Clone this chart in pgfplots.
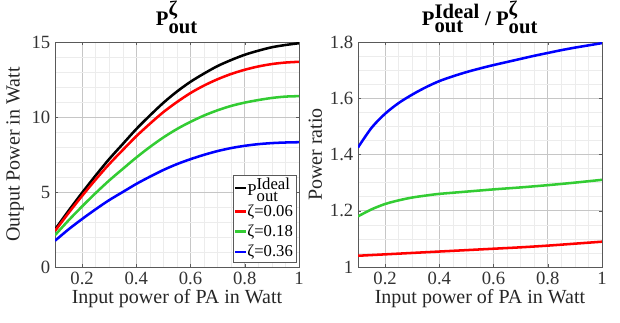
\documentclass[border=0pt]{standalone}
\usepackage{fontspec}
\setmainfont{Liberation Serif}
\usepackage{pgfplots}
\pgfplotsset{compat=1.18}
\definecolor{mred}{RGB}{255,0,0}
\definecolor{mgreen}{RGB}{51,204,51}
\definecolor{mblue}{RGB}{0,0,255}
\pgfplotsset{
  myax/.style={
    anchor=south west, scale only axis,
    width=183pt, height=168.75pt,
    xmin=0.1, xmax=1,
    xtick={0.2,0.4,0.6,0.8,1},
    xticklabels={0.2,0.4,0.6,0.8,1},
    minor x tick num=3,
    grid=both,
    major grid style={gray!45, line width=0.5pt},
    minor grid style={gray!15, line width=0.4pt},
    axis line style={gray!70!black, line width=0.5pt},
    tick style={gray!70!black},
    tick align=inside,
    major tick length=2pt, minor tick length=0pt,
    /pgf/number format/assume math mode=true,
    ticklabel style={font=\fontsize{14}{15}\selectfont, text=black!80},
    label style={font=\fontsize{15}{16}\selectfont, text=black!85},
    title style={font=\fontsize{15.5}{16}\selectfont\bfseries, yshift=-3pt},
    xlabel={Input power of PA in Watt},
    xlabel style={yshift=3pt},
    every axis plot/.append style={line width=1.9pt, smooth},
  }
}
\begin{document}
\begin{tikzpicture}
\path[use as bounding box] (0,0) rectangle (465pt,241.5pt);
\begin{axis}[myax, at={(41.25pt,41.25pt)},
  ymin=0, ymax=15, ytick={0,5,10,15}, minor y tick num=4,
  ylabel={Output Power in Watt}, ylabel style={yshift=-1pt},
  title={P$^{\textbf{ζ}}_{\textbf{out}}$},
  legend style={at={(0.99,0.02)}, anchor=south east, font=\fontsize{12.5}{13}\selectfont, draw=gray!70!black, line width=0.5pt, inner sep=0.5pt, row sep=1pt, cells={anchor=west}},
  legend image code/.code={\draw[#1, line width=1.9pt] (0,0) -- (0.3cm,0);},
]
\addplot[black] coordinates {(0.1,2.5) (0.15,3.75) (0.2,4.95) (0.25,6.1) (0.3,7.2) (0.35,8.2) (0.4,9.2) (0.45,10.1) (0.5,10.95) (0.55,11.7) (0.6,12.35) (0.65,12.9) (0.7,13.4) (0.75,13.8) (0.8,14.15) (0.85,14.42) (0.9,14.65) (0.95,14.8) (1,14.92)};
\addlegendentry{\hspace{-2pt}P$^{\textrm{Ideal}}_{\textrm{out}}$\rule[-6pt]{0pt}{15pt}}
\addplot[mred] coordinates {(0.1,2.40) (0.15,3.60) (0.2,4.74) (0.25,5.83) (0.3,6.86) (0.35,7.8) (0.4,8.72) (0.45,9.55) (0.5,10.33) (0.55,11.0) (0.6,11.6) (0.65,12.1) (0.7,12.52) (0.75,12.87) (0.8,13.15) (0.85,13.37) (0.9,13.53) (0.95,13.63) (1,13.68)};
\addlegendentry{\hspace{-2pt}ζ=0.06}
\addplot[mgreen] coordinates {(0.1,2.12) (0.15,3.11) (0.2,4.04) (0.25,4.93) (0.3,5.77) (0.35,6.54) (0.4,7.30) (0.45,8.0) (0.5,8.64) (0.55,9.2) (0.6,9.68) (0.65,10.1) (0.7,10.45) (0.75,10.74) (0.8,10.96) (0.85,11.13) (0.9,11.27) (0.95,11.36) (1,11.39)};
\addlegendentry{\hspace{-2pt}ζ=0.18}
\addplot[mblue] coordinates {(0.1,1.75) (0.15,2.51) (0.2,3.20) (0.25,3.85) (0.3,4.46) (0.35,5.0) (0.4,5.54) (0.45,6.02) (0.5,6.47) (0.55,6.86) (0.6,7.19) (0.65,7.48) (0.7,7.73) (0.75,7.93) (0.8,8.08) (0.85,8.19) (0.9,8.26) (0.95,8.3) (1,8.32)};
\addlegendentry{\hspace{-2pt}ζ=0.36}
\end{axis}
\begin{axis}[myax, at={(268.5pt,41.25pt)},
  ymin=1, ymax=1.8, ytick={1,1.2,1.4,1.6,1.8}, yticklabels={1,1.2,1.4,1.6,1.8}, minor y tick num=3,
  ylabel={Power ratio}, ylabel style={yshift=-1pt},
  title={P$^{\textbf{Ideal}}_{\textbf{out}}$ / P$^{\textbf{ζ}}_{\textbf{out}}$},
]
\addplot[mblue] coordinates {(0.1,1.425) (0.15,1.495) (0.2,1.545) (0.25,1.583) (0.3,1.613) (0.35,1.639) (0.4,1.661) (0.45,1.678) (0.5,1.693) (0.55,1.706) (0.6,1.718) (0.65,1.729) (0.7,1.740) (0.75,1.751) (0.8,1.761) (0.85,1.771) (0.9,1.780) (0.95,1.788) (1,1.796)};
\addplot[mgreen] coordinates {(0.1,1.18) (0.15,1.205) (0.2,1.224) (0.25,1.237) (0.3,1.247) (0.35,1.254) (0.4,1.26) (0.5,1.268) (0.6,1.276) (0.7,1.283) (0.8,1.291) (0.9,1.30) (1,1.31)};
\addplot[mred] coordinates {(0.1,1.04) (0.2,1.045) (0.3,1.05) (0.4,1.055) (0.5,1.06) (0.6,1.065) (0.7,1.07) (0.8,1.076) (0.9,1.083) (1,1.09)};
\end{axis}
\end{tikzpicture}
\end{document}
